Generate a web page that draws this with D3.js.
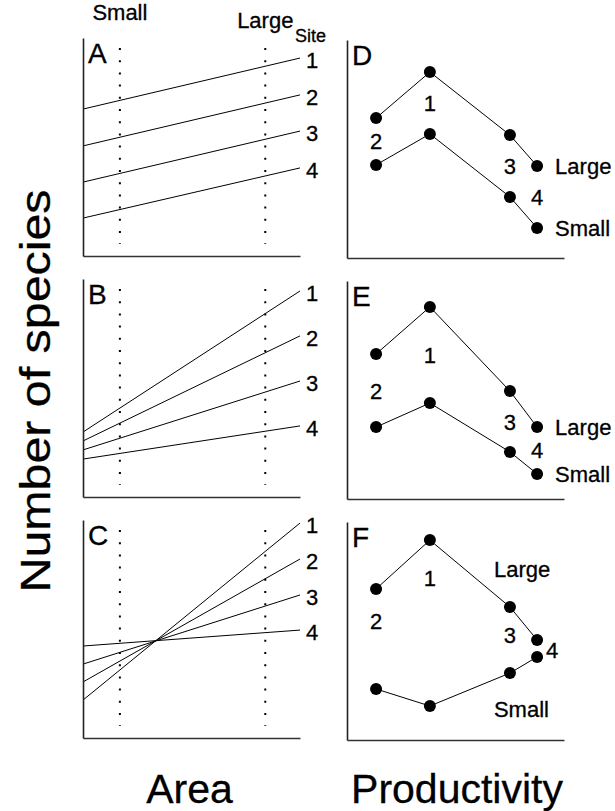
<!DOCTYPE html>
<html>
<head>
<meta charset="utf-8">
<script src="https://cdn.jsdelivr.net/npm/d3@7"></script>
<style>
  body { margin: 0; background: #fff; }
  text { font-family: "Liberation Sans", Arial, sans-serif; fill: #000; stroke: #000; stroke-width: 0.3; }
</style>
</head>
<body>
<svg id="canvas"></svg>
<script>
let width = 615;
let height = 811;

// area panels: sites 1-4, species at smallest area (start) and largest area (end)
let sites = ["1", "2", "3", "4"];
let areaMarks = ["Small", "Large"];
let areaMarkValues = [0.17, 0.84];

let aStart = [67.4, 50.5, 33.9, 17.4];
let aEnd = [90.8, 73.9, 57.3, 40.4];
let bStart = [29.8, 25.7, 21.6, 17.4];
let bEnd = [94.5, 73.9, 53.2, 32.6];
let cStart = [17.4, 25.7, 33.9, 42.2];
let cEnd = [98.6, 82.1, 65.6, 49.5];

// productivity panels: sites ordered along productivity axis
let prodSites = ["2", "1", "3", "4"];
let productivity = [13.4, 38.2, 75.1, 87.6];

let dLarge = [64.2, 85.3, 56.4, 42.2];
let dSmall = [42.7, 56.9, 28.0, 13.8];
let eLarge = [66.5, 88.1, 49.5, 33.0];
let eSmall = [33.0, 44.0, 21.6, 11.5];
let fLarge = [69.3, 91.7, 61.0, 45.9];
let fSmall = [23.4, 15.6, 30.7, 38.1];

// panel F puts its site numbers under the large curve
let fNumX = [13.4, 38.2, 75.1, 94.5];
let fNumY = [54.6, 74.3, 48.2, 41.3];
let fLargeLabel = [67.7, 78.4];
let fSmallLabel = [67.7, 14.2];

let leftRange = [83, 300];
let rightRange = [347, 564];
let leftTops = [38, 279, 520];
let rightTops = [40, 281, 522];
let panelH = 218;

let canvas = d3.select("#canvas");
canvas.attr("width", width);
canvas.attr("height", height);

canvas.append("rect").attr("width", width).attr("height", height).attr("fill", "#fff");

let drawAxes = (xScale, yScale, top) => {
  let xAxis = d3.axisBottom(xScale).tickValues([]).tickSizeOuter(0);
  let yAxis = d3.axisLeft(yScale).tickValues([]).tickSizeOuter(0);

  let gx = canvas.append("g")
    .call(xAxis)
    .attr("transform", "translate(0, " + (top + panelH) + ")");
  let gy = canvas.append("g")
    .call(yAxis)
    .attr("transform", "translate(" + xScale.range()[0] + ", 0)");

  gx.select(".domain").attr("stroke", "#333").attr("stroke-width", 1.5);
  gy.select(".domain").attr("stroke", "#222").attr("stroke-width", 1.6);
};

let drawLetter = (letter, x, top) => {
  canvas.append("text")
    .attr("x", x + 5)
    .attr("y", top + 25)
    .attr("font-size", 28)
    .text(letter);
};

let drawAreaPanel = (letter, top, starts, ends) => {
  let xScale = d3.scaleLinear().domain([0, 1]).range(leftRange);
  let yScale = d3.scaleLinear().domain([0, 100]).range([top + panelH, top]);

  canvas.selectAll(null)
    .data(areaMarkValues)
    .enter()
    .append("line")
    .attr("x1", (d) => xScale(d))
    .attr("x2", (d) => xScale(d))
    .attr("y1", top + 10)
    .attr("y2", top + panelH - 12)
    .attr("stroke", "#000")
    .attr("stroke-width", 2)
    .attr("stroke-dasharray", "2,10.2");

  let line = d3.line()
    .x((d) => xScale(d[0]))
    .y((d) => yScale(d[1]));

  canvas.selectAll(null)
    .data(sites)
    .enter()
    .append("path")
    .attr("d", (d, i) => line([[0, starts[i]], [1, ends[i]]]))
    .attr("fill", "none")
    .attr("stroke", "#000")
    .attr("stroke-width", 1);

  canvas.selectAll(null)
    .data(sites)
    .enter()
    .append("text")
    .attr("x", xScale(1) + 12)
    .attr("y", (d, i) => yScale(ends[i]) + 10)
    .attr("text-anchor", "middle")
    .attr("font-size", 22)
    .text((d) => d);

  drawAxes(xScale, yScale, top);
  drawLetter(letter, leftRange[0], top);
  return xScale;
};

let drawProdPanel = (letter, top, large, small, numX, numY, largeLabel, smallLabel) => {
  let xScale = d3.scaleLinear().domain([0, 100]).range(rightRange);
  let yScale = d3.scaleLinear().domain([0, 100]).range([top + panelH, top]);

  let line = d3.line()
    .x((d, i) => xScale(productivity[i]))
    .y((d) => yScale(d));

  [large, small].forEach((series) => {
    canvas.append("path")
      .attr("d", line(series))
      .attr("fill", "none")
      .attr("stroke", "#000")
      .attr("stroke-width", 1);

    canvas.selectAll(null)
      .data(series)
      .enter()
      .append("circle")
      .attr("cx", (d, i) => xScale(productivity[i]))
      .attr("cy", (d) => yScale(d))
      .attr("r", 6)
      .attr("fill", "#000");
  });

  canvas.selectAll(null)
    .data(prodSites)
    .enter()
    .append("text")
    .attr("x", (d, i) => xScale(numX[i]))
    .attr("y", (d, i) => yScale(numY[i]) + 8)
    .attr("text-anchor", "middle")
    .attr("font-size", 22)
    .text((d) => d);

  canvas.append("text")
    .attr("x", xScale(largeLabel[0]))
    .attr("y", yScale(largeLabel[1]) + 8)
    .attr("font-size", 22)
    .text("Large");
  canvas.append("text")
    .attr("x", xScale(smallLabel[0]))
    .attr("y", yScale(smallLabel[1]) + 8)
    .attr("font-size", 22)
    .text("Small");

  drawAxes(xScale, yScale, top);
  drawLetter(letter, rightRange[0], top);
};

let areaX = drawAreaPanel("A", leftTops[0], aStart, aEnd);
drawAreaPanel("B", leftTops[1], bStart, bEnd);
drawAreaPanel("C", leftTops[2], cStart, cEnd);

// D and E: site numbers sit halfway between the curves, series names right of site 4
let midY = (a, b) => a.map((v, i) => (v + b[i]) / 2);
let last = productivity.length - 1;

drawProdPanel("D", rightTops[0], dLarge, dSmall, productivity, midY(dLarge, dSmall),
  [productivity[last] + 8.3, dLarge[last]], [productivity[last] + 8.3, dSmall[last]]);
drawProdPanel("E", rightTops[1], eLarge, eSmall, productivity, midY(eLarge, eSmall),
  [productivity[last] + 8.3, eLarge[last]], [productivity[last] + 8.3, eSmall[last]]);
drawProdPanel("F", rightTops[2], fLarge, fSmall, fNumX, fNumY, fLargeLabel, fSmallLabel);

// area markers above panel A
canvas.append("text")
  .attr("x", areaX(areaMarkValues[0]))
  .attr("y", 20)
  .attr("text-anchor", "middle")
  .attr("font-size", 22)
  .text(areaMarks[0]);
canvas.append("text")
  .attr("x", areaX(areaMarkValues[1]))
  .attr("y", 28)
  .attr("text-anchor", "middle")
  .attr("font-size", 22)
  .text(areaMarks[1]);
canvas.append("text")
  .attr("x", 295)
  .attr("y", 42)
  .attr("font-size", 18)
  .text("Site");

// axis titles
canvas.append("text")
  .attr("transform", "translate(50, 391) rotate(-90)")
  .attr("text-anchor", "middle")
  .attr("font-size", 42)
  .attr("textLength", 403)
  .attr("lengthAdjust", "spacingAndGlyphs")
  .text("Number of species");
canvas.append("text")
  .attr("x", 189.5)
  .attr("y", 803)
  .attr("text-anchor", "middle")
  .attr("font-size", 41)
  .text("Area");
canvas.append("text")
  .attr("x", 457)
  .attr("y", 803)
  .attr("text-anchor", "middle")
  .attr("font-size", 41)
  .text("Productivity");
</script>
</body>
</html>
